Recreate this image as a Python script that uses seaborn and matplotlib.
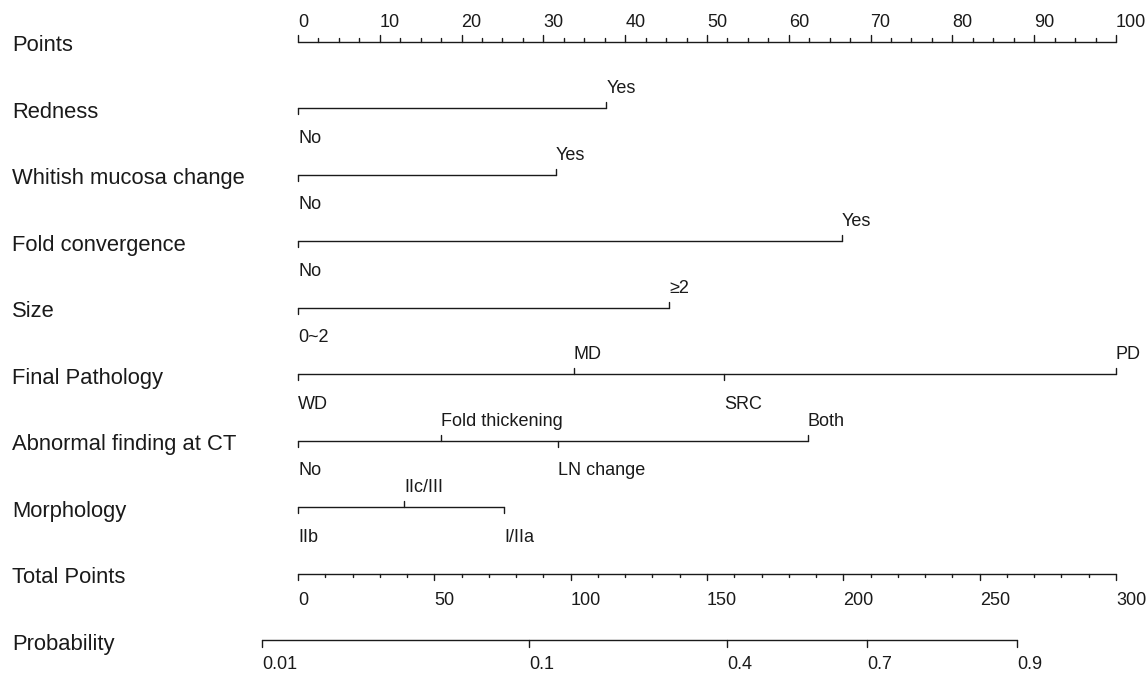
import numpy as np
import matplotlib
matplotlib.use("Agg")
import matplotlib.pyplot as plt
import matplotlib.transforms as mtransforms
import seaborn as sns

# ── data (points per level) ───────────────────────────────────────────────
row_names = ["Points", "Redness", "Whitish mucosa change", "Fold convergence",
             "Size", "Final Pathology", "Abnormal finding at CT", "Morphology",
             "Total Points", "Probability"]

redness_levels = ["No", "Yes"]
redness_pts = [0, 37.7]
whitish_levels = ["No", "Yes"]
whitish_pts = [0, 31.5]
fold_levels = ["No", "Yes"]
fold_pts = [0, 66.5]
size_levels = ["0~2", "≥2"]
size_pts = [0, 45.4]
path_levels = ["WD", "MD", "SRC", "PD"]
path_pts = [0, 33.7, 52.1, 100]
ct_levels = ["No", "Fold thickening", "LN change", "Both"]
ct_pts = [0, 17.5, 31.8, 62.3]
morph_levels = ["IIb", "IIc/III", "I/IIa"]
morph_pts = [0, 13.0, 25.2]

points_ticks = [0, 10, 20, 30, 40, 50, 60, 70, 80, 90, 100]
total_ticks = [0, 50, 100, 150, 200, 250, 300]
prob_ticks = ["0.01", "0.1", "0.4", "0.7", "0.9"]
prob_total_pts = [-13.2, 84.7, 157.3, 208.7, 263.7]   # total points at each prob tick

variables = [
    (redness_levels, redness_pts),
    (whitish_levels, whitish_pts),
    (fold_levels, fold_pts),
    (size_levels, size_pts),
    (path_levels, path_pts),
    (ct_levels, ct_pts),
    (morph_levels, morph_pts),
]

# ── style ─────────────────────────────────────────────────────────────────
sns.set_theme(style="white")
plt.rcParams["font.family"] = ["Liberation Sans", "DejaVu Sans"]

INK = "#1a1a1a"
LW = 1.0
LAB_FS = 15.8
TICK_FS = 13

W, H = 1148, 674
X0, PX_PER_PT = 298, 8.18          # x pixel of 0 points, pixels per point
ROW0, ROW_PX = 41.7, 66.5          # y pixel of first row, pixels per row

fig = plt.figure(figsize=(W / 100, H / 100), dpi=100)
xmin, xmax = -10, 105
ax = fig.add_axes([(X0 + xmin * PX_PER_PT) / W, 0,
                   (xmax - xmin) * PX_PER_PT / W, 1])
ax.set_xlim(xmin, xmax)
ax.set_ylim((H - ROW0) / ROW_PX, -ROW0 / ROW_PX)
ax.axis("off")

lab_tf = mtransforms.blended_transform_factory(fig.transFigure, ax.transData)
for i, name in enumerate(row_names):
    ax.text(12 / W, i + 0.06, name, transform=lab_tf, ha="left", va="center",
            fontsize=LAB_FS, color=INK)

TMAJ, TMIN = 0.1, 0.05
UP, DOWN = -0.29, 0.45

# Points axis (ticks up)
ax.plot([0, 100], [0, 0], color=INK, lw=LW)
for v in np.arange(0, 100.01, 2.5):
    ln = TMAJ if v % 10 == 0 else TMIN
    ax.plot([v, v], [0, -ln], color=INK, lw=LW)
for v in points_ticks:
    ax.text(v, UP, str(v), ha="left", va="center", fontsize=TICK_FS, color=INK)

# variable rows: labels alternate below / above the line
for r, (levels, pts) in enumerate(variables, start=1):
    ax.plot([min(pts), max(pts)], [r, r], color=INK, lw=LW)
    order = np.argsort(pts)
    for k, idx in enumerate(order):
        x = pts[idx]
        if k % 2 == 0:
            ax.plot([x, x], [r, r + 0.09], color=INK, lw=LW)
            ax.text(x, r + DOWN, levels[idx], ha="left", va="center",
                    fontsize=TICK_FS, color=INK)
        else:
            ax.plot([x, x], [r, r - 0.09], color=INK, lw=LW)
            ax.text(x, r + UP, levels[idx], ha="left", va="center",
                    fontsize=TICK_FS, color=INK)

# Total points axis (ticks down), 300 total points span 100 points
r = 8
ax.plot([0, 100], [r, r], color=INK, lw=LW)
for v in np.arange(0, 300.01, 10):
    ln = TMAJ if v % 50 == 0 else TMIN
    ax.plot([v / 3, v / 3], [r, r + ln], color=INK, lw=LW)
for v in total_ticks:
    ax.text(v / 3, r + 0.41, str(v), ha="left", va="center",
            fontsize=TICK_FS, color=INK)

# Probability axis
r = 9
px = [p / 3 for p in prob_total_pts]
ax.plot([px[0], px[-1]], [r, r], color=INK, lw=LW)
for x, lab in zip(px, prob_ticks):
    ax.plot([x, x], [r, r + TMAJ], color=INK, lw=LW)
    ax.text(x, r + 0.36, lab, ha="left", va="center", fontsize=TICK_FS, color=INK)

fig.savefig("out.png", dpi=100, facecolor="white")
plt.close(fig)
